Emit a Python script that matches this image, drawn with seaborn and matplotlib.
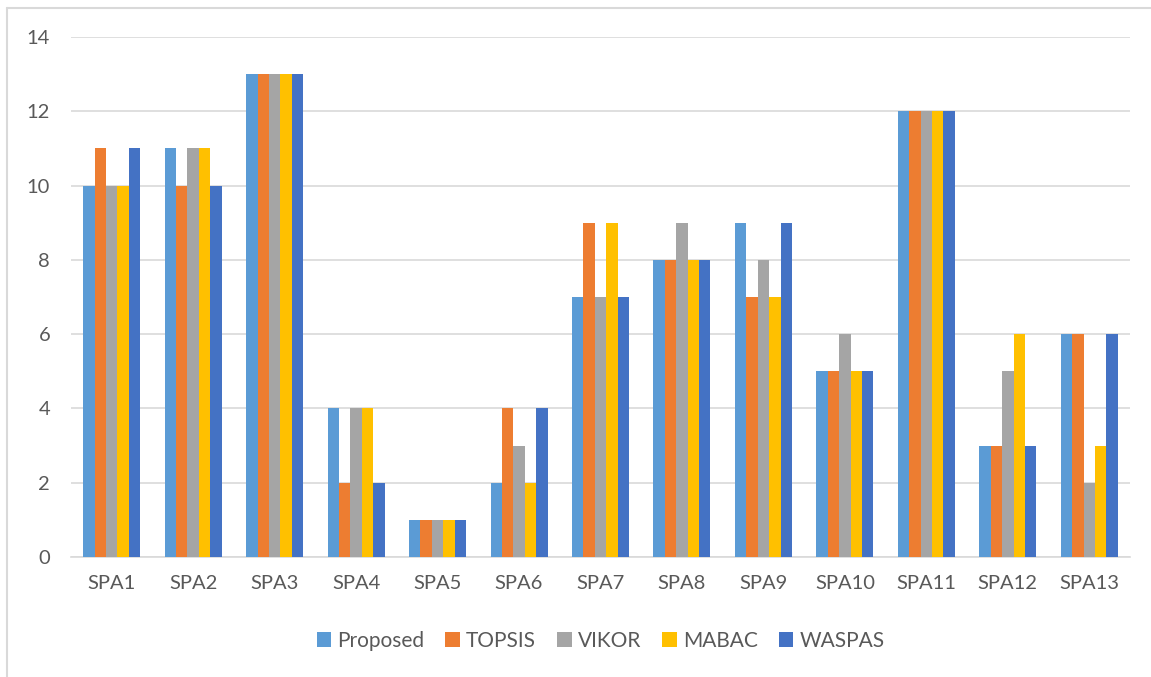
import matplotlib
matplotlib.use("Agg")
import matplotlib.pyplot as plt
from matplotlib.lines import Line2D
import pandas as pd
import seaborn as sns

categories = ["SPA1", "SPA2", "SPA3", "SPA4", "SPA5", "SPA6", "SPA7",
              "SPA8", "SPA9", "SPA10", "SPA11", "SPA12", "SPA13"]
proposed = [10, 11, 13, 4, 1, 2, 7, 8, 9, 5, 12, 3, 6]
topsis = [11, 10, 13, 2, 1, 4, 9, 8, 7, 5, 12, 3, 6]
vikor = [10, 11, 13, 4, 1, 3, 7, 9, 8, 6, 12, 5, 2]
mabac = [10, 11, 13, 4, 1, 2, 9, 8, 7, 5, 12, 6, 3]
waspas = [11, 10, 13, 2, 1, 4, 7, 8, 9, 5, 12, 3, 6]
methods = ["Proposed", "TOPSIS", "VIKOR", "MABAC", "WASPAS"]
y_ticks = [0, 2, 4, 6, 8, 10, 12, 14]

colors = ["#5B9BD5", "#ED7D31", "#A5A5A5", "#FFC000", "#4472C4"]

series = [proposed, topsis, vikor, mabac, waspas]
rows = []
for m, vals in zip(methods, series):
    for c, v in zip(categories, vals):
        rows.append({"cat": c, "method": m, "value": v})
df = pd.DataFrame(rows)

sns.set_theme(style="white")
plt.rcParams["font.family"] = ["Lato", "DejaVu Sans"]

W, H = 1151, 677
fig = plt.figure(figsize=(W / 100, H / 100), dpi=100)
ax = fig.add_axes([71 / W, 1 - 557 / H, (1130 - 71) / W, (557 - 37) / H])

sns.barplot(data=df, x="cat", y="value", hue="method", order=categories,
            hue_order=methods, palette=colors, width=0.7, saturation=1,
            errorbar=None, linewidth=0, edgecolor="none", ax=ax, zorder=3)

ax.set_ylim(0, 14)
ax.set_yticks(y_ticks)
ax.set_xlim(-0.5, len(categories) - 0.5)
ax.yaxis.grid(True, color="#D9D9D9", linewidth=1.2, zorder=0)
ax.set_axisbelow(True)
for side in ["top", "right", "left"]:
    ax.spines[side].set_visible(False)
ax.spines["bottom"].set_color("#D9D9D9")
ax.spines["bottom"].set_linewidth(1.2)
ax.tick_params(axis="both", length=0, labelsize=14.5, colors="#595959")
ax.tick_params(axis="x", pad=13)
ax.tick_params(axis="y", pad=15)
ax.set_xlabel("")
ax.set_ylabel("")

leg = ax.legend(loc="center", bbox_to_anchor=(0.5, (641 - 557) / -(557 - 37)),
                bbox_transform=ax.transAxes, ncol=5, frameon=False,
                fontsize=15, handlelength=0.7, handleheight=0.7,
                handletextpad=0.3, columnspacing=1.0)
for t in leg.get_texts():
    t.set_color("#595959")

# chart frame
fig.add_artist(Line2D([7.5 / W, 7.5 / W], [0, 1 - 7.5 / H], transform=fig.transFigure,
                      color="#D9D9D9", linewidth=1.5))
fig.add_artist(Line2D([7.5 / W, 1], [1 - 7.5 / H, 1 - 7.5 / H], transform=fig.transFigure,
                      color="#D9D9D9", linewidth=1.5))

fig.savefig("out.png", dpi=100)
